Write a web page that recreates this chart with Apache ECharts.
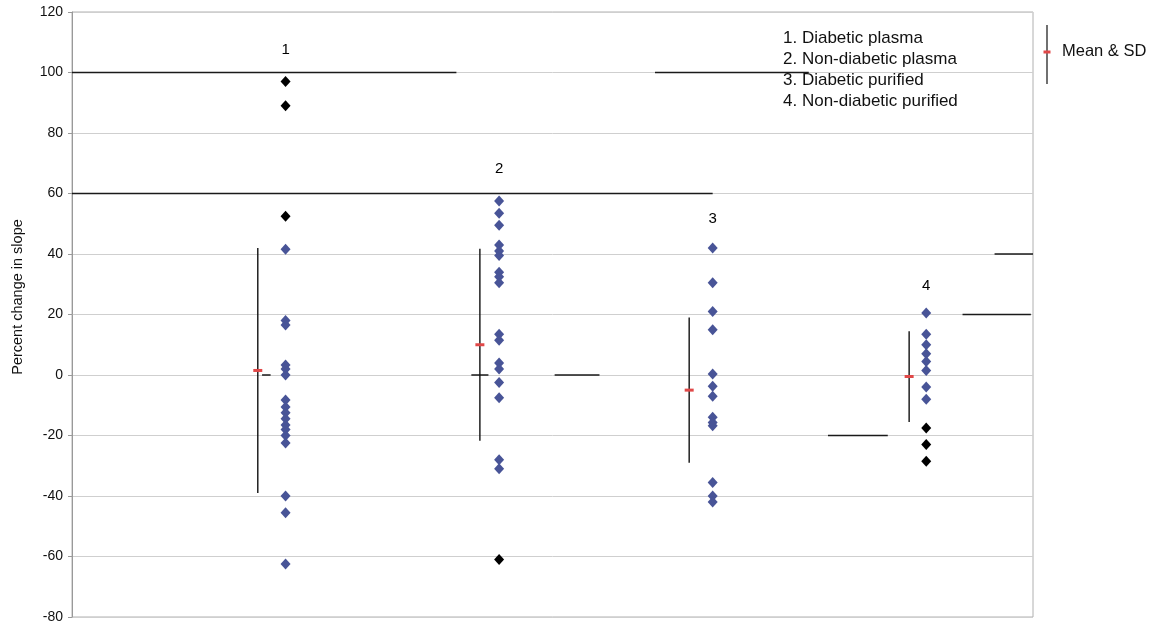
<!DOCTYPE html>
<html><head><meta charset="utf-8">
<script src="https://cdn.jsdelivr.net/npm/echarts@6/dist/echarts.min.js"></script>
<style>html,body{margin:0;padding:0;background:#fff}#c{width:1169px;height:630px}</style>
</head><body><div id="c"></div>
<script>
// ---- data ----
var groups = [1, 2, 3, 4];
var groupLabels = ['1', '2', '3', '4'];
var groupLabelY = [107.5, 68, 51.5, 29.5];
var legendLines = ['1. Diabetic plasma', '2. Non-diabetic plasma', '3. Diabetic purified', '4. Non-diabetic purified'];
var yAxisTitle = 'Percent change in slope';
var blue1 = [41.6, 18, 16.5, 3.3, 2, 0, -8.3, -10.6, -12.5, -14.5, -16.5, -18, -20, -22.5, -40, -45.5, -62.5];
var black1 = [97, 89, 52.5];
var blue2 = [57.5, 53.5, 49.5, 43, 41, 39.5, 34, 32.5, 30.5, 13.5, 11.5, 4, 2, -2.5, -7.5, -28, -31];
var black2 = [-61];
var blue3 = [42, 30.5, 21, 15, 0.3, -3.7, -7, -14, -15.7, -16.8, -35.5, -40, -42];
var black3 = [];
var blue4 = [20.5, 13.5, 10, 7, 4.5, 1.5, -4, -8];
var black4 = [-17.5, -23, -28.5];
var meanX = [0.87, 1.91, 2.89, 3.92];
var meanVals = [1.5, 10, -5, -0.5];
var sdVals = [40.5, 31.75, 24, 15];
var yTicks = [-80, -60, -40, -20, 0, 20, 40, 60, 80, 100, 120];
// darker (scanned) gridline fragments: [y, xStart, xEnd]
var darkSegs = [[100, 0, 1.80], [100, 2.73, 3.45], [60, 0, 3.0], [40, 4.32, 4.5], [20, 4.17, 4.49], [-20, 3.54, 3.82], [0, 1.87, 1.95], [0, 0.89, 0.93], [0, 2.26, 2.47]];

var blueSets = [blue1, blue2, blue3, blue4];
var blackSets = [black1, black2, black3, black4];
function pts(sets) {
  var out = [];
  sets.forEach(function (arr, i) { arr.forEach(function (v) { out.push([groups[i], v]); }); });
  return out;
}
var font = '"Liberation Sans", Arial, sans-serif';

var segSeries = darkSegs.map(function (s) {
  return {
    type: 'line', data: [[s[1], s[0]], [s[2], s[0]]], symbol: 'none', silent: true,
    lineStyle: { color: '#1a1a1a', width: 1.6 }, z: 1, animation: false
  };
});

var option = {
  animation: false,
  backgroundColor: '#fff',
  grid: { left: 72, right: 136, top: 12, bottom: 13, show: true, borderColor: '#b0b0b0', borderWidth: 1 },
  xAxis: { type: 'value', min: 0, max: 4.5, show: false, splitLine: { show: false } },
  yAxis: {
    type: 'value', min: -80, max: 120, interval: 20,
    axisLine: { show: true, lineStyle: { color: '#999' } },
    axisTick: { show: true, length: 4, lineStyle: { color: '#999' } },
    axisLabel: { fontFamily: font, fontSize: 14, color: '#111', margin: 9,
      formatter: function (v) { return yTicks.indexOf(v) >= 0 ? String(v) : ''; } },
    splitLine: { show: true, lineStyle: { color: '#cfcfcf', width: 1 } }
  },
  series: segSeries.concat([
    {
      type: 'custom', z: 3,
      data: meanX.map(function (x, i) { return [x, meanVals[i], sdVals[i]]; }),
      renderItem: function (params, api) {
        var x = api.value(0), m = api.value(1), sd = api.value(2);
        var top = api.coord([x, m + sd]), bot = api.coord([x, m - sd]), mid = api.coord([x, m]);
        return { type: 'group', children: [
          { type: 'line', shape: { x1: top[0], y1: top[1], x2: bot[0], y2: bot[1] }, style: { stroke: '#111', lineWidth: 1.4 } },
          { type: 'rect', shape: { x: mid[0] - 4.5, y: mid[1] - 1.5, width: 9, height: 3 }, style: { fill: '#e04848' } }
        ] };
      }
    },
    { type: 'scatter', data: pts(blueSets), symbol: 'diamond', symbolSize: [10, 11], z: 4,
      itemStyle: { color: '#485497', opacity: 1 } },
    { type: 'scatter', data: pts(blackSets), symbol: 'diamond', symbolSize: [10, 11], z: 4,
      itemStyle: { color: '#000', opacity: 1 } },
    { type: 'scatter', data: groups.map(function (g, i) { return [g, groupLabelY[i], groupLabels[i]]; }),
      symbolSize: 0, z: 5, itemStyle: { opacity: 1 },
      label: { show: true, position: 'inside', formatter: function (p) { return p.data[2]; },
        fontFamily: font, fontSize: 15, color: '#000', opacity: 1 } }
  ]),
  graphic: [
    { type: 'text', x: 18, y: 297, rotation: Math.PI / 2,
      style: { text: yAxisTitle, fontFamily: font, fontSize: 14.5, fill: '#111', align: 'center', verticalAlign: 'middle' } },
    { type: 'group', left: 783, top: 30, children: legendLines.map(function (t, i) {
      return { type: 'text', left: 0, top: i * 21, style: { text: t, fontFamily: font, fontSize: 17, fill: '#111' } };
    }) },
    { type: 'line', shape: { x1: 1047, y1: 25, x2: 1047, y2: 84 }, style: { stroke: '#111', lineWidth: 1.2 } },
    { type: 'rect', shape: { x: 1043.5, y: 50.5, width: 7, height: 3 }, style: { fill: '#e04848' } },
    { type: 'text', left: 1062, top: 43, style: { text: 'Mean & SD', fontFamily: font, fontSize: 16.5, fill: '#111' } }
  ]
};
var chart = echarts.init(document.getElementById('c'), null, { renderer: 'canvas' });
chart.setOption(option);
</script></body></html>
